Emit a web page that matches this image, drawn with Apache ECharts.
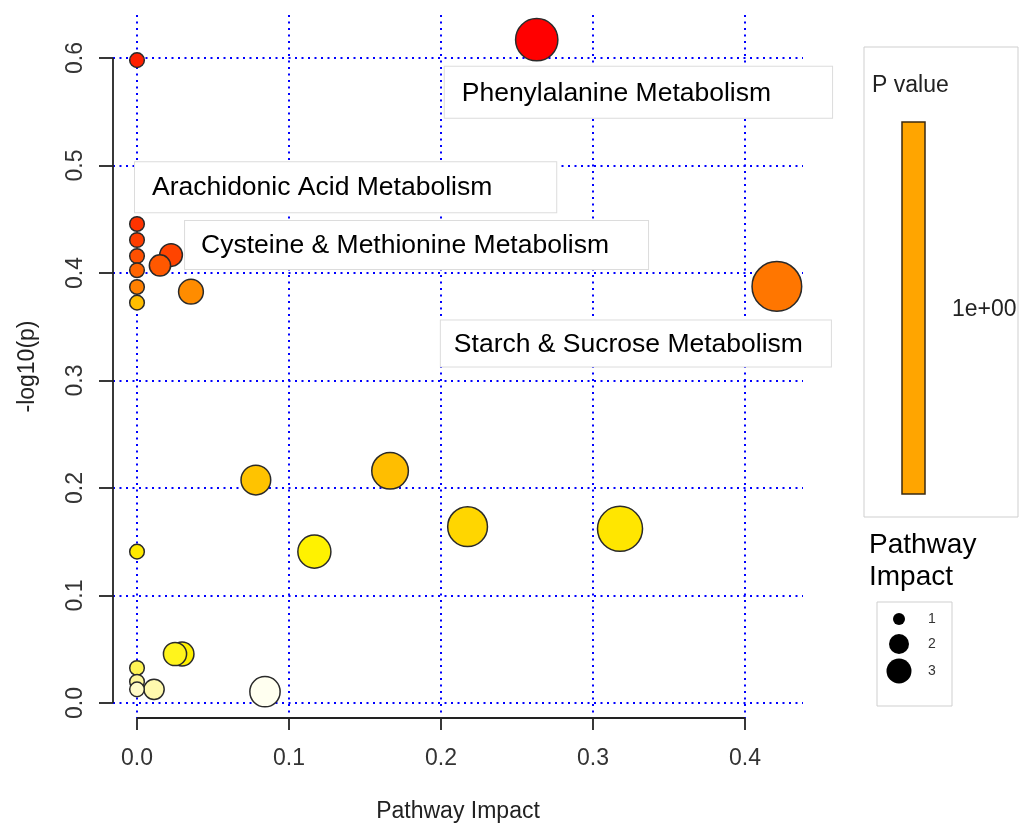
<!DOCTYPE html>
<html><head><meta charset="utf-8">
<script src="https://cdn.jsdelivr.net/npm/echarts@6/dist/echarts.min.js"></script>
<style>html,body{margin:0;padding:0;background:#fff}#c{width:1020px;height:825px}</style>
</head><body><div id="c"></div>
<script>
// ---- data ----
const impact = [0.263, 0.0, 0.0, 0.0, 0.0224, 0.0, 0.0151, 0.0, 0.421, 0.0, 0.0355, 0.0,
                0.1665, 0.0782, 0.2175, 0.3178, 0.0, 0.1167, 0.0296, 0.025, 0.0, 0.0, 0.0112, 0.0, 0.0842];
const logP   = [0.617, 0.598, 0.4456, 0.4307, 0.4167, 0.4158, 0.407, 0.4026, 0.3875, 0.387, 0.3826, 0.3724,
                0.216, 0.2074, 0.164, 0.162, 0.1408, 0.1408, 0.0456, 0.0456, 0.0326, 0.0198, 0.0127, 0.0127, 0.0105];
const xTicks = [0, 0.1, 0.2, 0.3, 0.4];
const yTicks = [0, 0.1, 0.2, 0.3, 0.4, 0.5, 0.6];
const labelNames = ['Phenylalanine Metabolism', 'Arachidonic Acid Metabolism',
                    'Cysteine & Methionine Metabolism', 'Starch & Sucrose Metabolism'];
const labelPoint = [0, 1, 4, 8];
const colorLegendTitle = 'P value';
const colorLegendValue = '1e+00';
const sizeLegendTitle = ['Pathway', 'Impact'];
const sizeLegendValues = ['1', '2', '3'];

// ---- styles (fill of each point, as seen in the picture: heat scale by p value) ----
const pointFill = ['#FF0000', '#FF2000', '#FF3300', '#FF3E00', '#FF4400', '#FF5000', '#FF5800', '#FF6400',
                   '#FF7600', '#FF8000', '#FF8C00', '#FFBE00', '#FFBE00', '#FFC300', '#FFD600', '#FFE600',
                   '#FFEA00', '#FFF200', '#FFF000', '#FFF41C', '#FFF455', '#FFF79A', '#FFF9AE', '#FFFBC8', '#FFFFF0'];

const FONT = 'Liberation Sans, Arial, sans-serif';
const xMin = -0.0158, xMax = 0.4382, yMin = -0.01395, yMax = 0.64;

const labelStyles = [
  { offset: [-92, 27], padding: [12, 61, 9, 17] },
  { offset: [-2, 102], padding: [11, 64, 9, 17] },
  { offset: [14, -34], padding: [10, 39, 8, 16] },
  { offset: [-336, 34], padding: [9, 28, 7, 13] }
];

const points = impact.map((x, i) => {
  const item = { value: [x, logP[i]], itemStyle: { color: pointFill[i] } };
  const li = labelPoint.indexOf(i);
  if (li >= 0) {
    item.name = labelNames[li];
    item.label = {
      show: true, formatter: '{b}', position: 'inside', align: 'left', verticalAlign: 'top',
      offset: labelStyles[li].offset, padding: labelStyles[li].padding,
      backgroundColor: '#fff', borderColor: '#dcdcdc', borderWidth: 1,
      fontSize: 26.5, lineHeight: 30, fontFamily: FONT, color: '#000'
    };
  }
  return item;
});

const gridLine = { show: true, lineStyle: { color: '#0000ff', width: 2, type: [2, 4.5] } };

const chart = echarts.init(document.getElementById('c'), null, { renderer: 'canvas' });
chart.setOption({
  animation: false,
  backgroundColor: '#fff',
  textStyle: { fontFamily: FONT },
  grid: { left: 113, right: 217, top: 15, bottom: 107, containLabel: false, outerBoundsMode: 'none' },
  xAxis: {
    type: 'value', min: xMin, max: xMax,
    name: 'Pathway Impact', nameLocation: 'middle', nameGap: 82,
    nameTextStyle: { fontSize: 23, color: '#222', fontFamily: FONT },
    axisLine: { show: false, onZero: false },
    axisTick: { show: true, customValues: xTicks, length: 12, lineStyle: { color: '#222', width: 1.8 } },
    axisLabel: { customValues: xTicks, formatter: v => v.toFixed(1), fontSize: 23, color: '#333', margin: 29, fontFamily: FONT },
    splitLine: gridLine
  },
  yAxis: {
    type: 'value', min: yMin, max: yMax,
    name: '-log10(p)', nameLocation: 'middle', nameGap: 74,
    nameTextStyle: { fontSize: 23, color: '#222', fontFamily: FONT },
    axisLine: { show: false, onZero: false },
    axisTick: { show: true, customValues: yTicks, length: 14, lineStyle: { color: '#222', width: 1.8 } },
    axisLabel: { customValues: yTicks, formatter: v => v.toFixed(1), rotate: 90, fontSize: 23, color: '#333', margin: 26, fontFamily: FONT },
    splitLine: gridLine
  },
  series: [
    {
      type: 'line', data: [], clip: false, silent: true,
      markLine: {
        silent: true, symbol: ['none', 'none'], animation: false,
        label: { show: false },
        lineStyle: { color: '#222', width: 1.8, type: 'solid' },
        data: [
          [{ coord: [xTicks[0], yMin] }, { coord: [xTicks[xTicks.length - 1], yMin] }],
          [{ coord: [xMin, yTicks[0]] }, { coord: [xMin, yTicks[yTicks.length - 1]] }]
        ]
      }
    },
    {
      type: 'scatter', clip: false, z: 3,
      symbol: 'circle',
      symbolSize: v => 2 * (7.3 + 27 * Math.sqrt(v[0])),
      itemStyle: { borderColor: '#2a2a2a', borderWidth: 1.5, opacity: 1 },
      emphasis: { disabled: true },
      data: points
    }
  ],
  graphic: [
    { type: 'rect', shape: { x: 864, y: 47, width: 154, height: 470 }, style: { fill: '#fff', stroke: '#cfcfcf', lineWidth: 1 } },
    { type: 'text', x: 872, y: 86, style: { text: colorLegendTitle, font: '23px ' + FONT, fill: '#222', verticalAlign: 'middle' } },
    { type: 'rect', shape: { x: 902, y: 122, width: 23, height: 372 }, style: { fill: '#FFA500', stroke: '#3a2a10', lineWidth: 1.5 } },
    { type: 'text', x: 952, y: 310, style: { text: colorLegendValue, font: '23px ' + FONT, fill: '#222', verticalAlign: 'middle' } },
    { type: 'text', x: 869, y: 545, style: { text: sizeLegendTitle[0], font: '28px ' + FONT, fill: '#000', verticalAlign: 'middle' } },
    { type: 'text', x: 869, y: 577, style: { text: sizeLegendTitle[1], font: '28px ' + FONT, fill: '#000', verticalAlign: 'middle' } },
    { type: 'rect', shape: { x: 877, y: 602, width: 75, height: 104 }, style: { fill: '#fff', stroke: '#cfcfcf', lineWidth: 1 } },
    { type: 'circle', shape: { cx: 899, cy: 619, r: 6 }, style: { fill: '#000' } },
    { type: 'circle', shape: { cx: 899, cy: 644, r: 10 }, style: { fill: '#000' } },
    { type: 'circle', shape: { cx: 899, cy: 671, r: 12.5 }, style: { fill: '#000' } },
    { type: 'text', x: 932, y: 619, style: { text: sizeLegendValues[0], font: '14px ' + FONT, fill: '#333', align: 'center', verticalAlign: 'middle' } },
    { type: 'text', x: 932, y: 644, style: { text: sizeLegendValues[1], font: '14px ' + FONT, fill: '#333', align: 'center', verticalAlign: 'middle' } },
    { type: 'text', x: 932, y: 671, style: { text: sizeLegendValues[2], font: '14px ' + FONT, fill: '#333', align: 'center', verticalAlign: 'middle' } }
  ]
});
</script>
</body></html>
